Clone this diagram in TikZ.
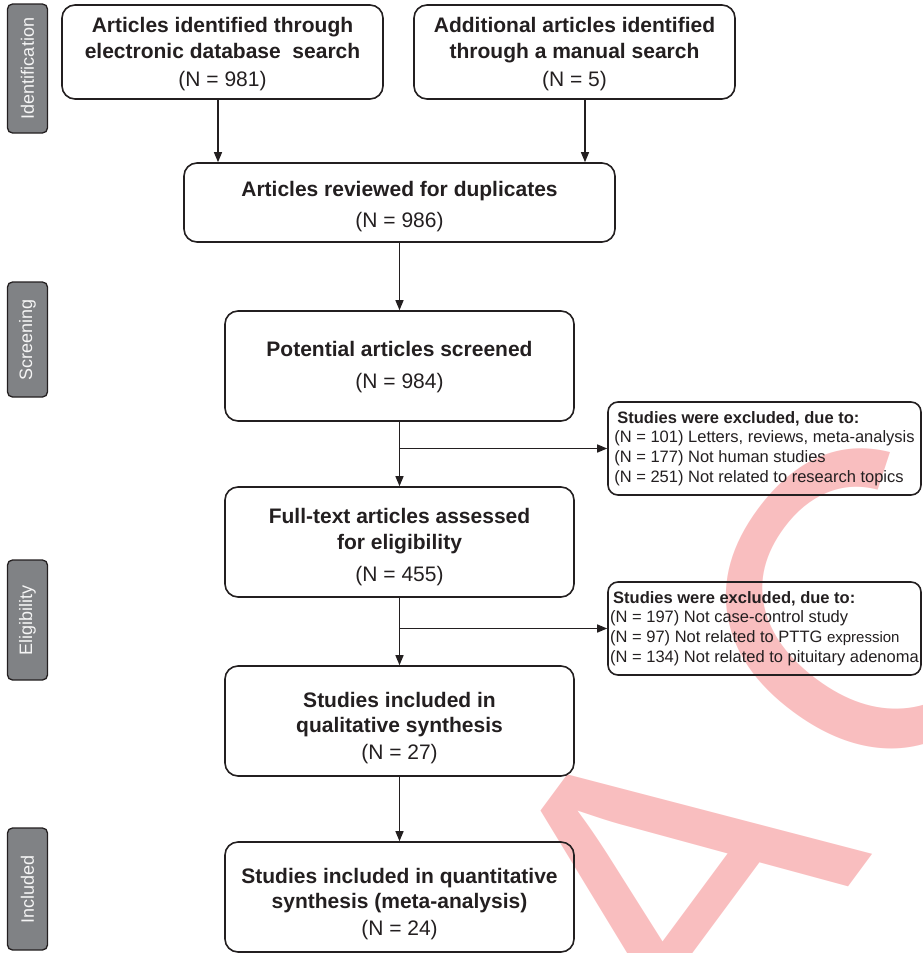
\documentclass[tikz,border=0pt]{standalone}
\usepackage{fontspec}
\setmainfont{Liberation Sans}
\usetikzlibrary{arrows.meta}
\definecolor{inkgray}{HTML}{231F20}
\definecolor{phasegray}{HTML}{808285}
\definecolor{stamppink}{RGB}{249,190,191}

\begin{document}
\begin{tikzpicture}[x=1pt, y=-1pt, line width=1.6pt,
    box/.style={draw=inkgray, rounded corners=13pt, minimum width=349pt, minimum height=110pt,
      inner sep=0pt, align=center, text=inkgray, font=\fontsize{21}{25.5}\selectfont},
    excl/.style={draw=inkgray, rounded corners=10pt, minimum width=313pt, minimum height=93pt,
      inner xsep=1pt, inner ysep=0pt, align=left, text=inkgray, font=\fontsize{16.5}{19.8}\selectfont},
    phase/.style={draw=inkgray, fill=phasegray, rounded corners=5pt, rotate=90, line width=1.3pt,
      minimum height=40pt, inner sep=0pt, text=white!92!phasegray, font=\fontsize{18}{18}\selectfont},
    stamp/.style={text=stamppink, font=\fontsize{425}{425}\selectfont, rotate=53.5,
      anchor=base west, inner sep=0pt},
    arr/.style={draw=inkgray, line width=1.3pt, -{Triangle[length=10pt,width=8pt]}}]
  \useasboundingbox (0,0) rectangle (923,953);
  % watermark behind everything
  \begin{scope}
    \clip (0,0) rectangle (923,953);
    \node[stamp] (wm) at (704,1082) {A\kern45pt C};
  \end{scope}
  % phases on the left
  \node[phase, minimum width=129pt] (idphase) at (27.5,68.5) {Identification};
  \node[phase, minimum width=115pt] (scphase) at (27.5,339.5) {Screening};
  \node[phase, minimum width=120pt] (elphase) at (27.5,620) {Eligibility};
  \node[phase, minimum width=122pt] (inphase) at (27.5,889) {Included};
  % identification
  \node[box, minimum width=321pt, minimum height=94pt] (found) at (222.5,52)
    {\rule{0pt}{20pt}\textbf{Articles identified through}\\\textbf{electronic database\ \ search}\\[3pt](N = 981)};
  \node[box, minimum width=321pt, minimum height=94pt] (manual) at (574.5,52)
    {\rule{0pt}{20pt}\textbf{Additional articles identified}\\\textbf{through a manual search}\\[3pt](N = 5)};
  \node[box, minimum width=431pt, minimum height=79pt] (dups) at (399.5,202.5)
    {\rule{0pt}{24pt}\textbf{Articles reviewed for duplicates}\\[5.5pt](N = 986)};
  % screening and eligibility
  \node[box] (screened) at (399.5,366)
    {\rule{0pt}{18pt}\textbf{Potential articles screened}\\[6.5pt](N = 984)};
  \node[box] (fulltext) at (399.5,542)
    {\rule{0pt}{25pt}\textbf{Full-text articles assessed}\\\textbf{for eligibility}\\[6.5pt](N = 455)};
  \node[box] (qualit) at (399.5,721)
    {\rule{0pt}{29pt}\textbf{Studies included in}\\\textbf{qualitative synthesis}\\[1.5pt](N = 27)};
  \node[box] (quantit) at (399.5,897)
    {\rule{0pt}{29pt}\textbf{Studies included in quantitative}\\\textbf{synthesis (meta-analysis)}\\[1.5pt](N = 24)};
  % exclusions
  \node[excl] (exclA) at (764.5,448.5)
    {\hspace*{3pt}\textbf{Studies were excluded, due to:}\\
     (N = 101) Letters, reviews, meta-analysis\\
     (N = 177) Not human studies\\
     (N = 251) Not related to research topics};
  \node[excl] (exclB) at (764.5,628.5)
    {\hspace*{3pt}\textbf{Studies were excluded, due to:}\\
     (N = 197) Not case-control study\\
     (N = 97) Not related to PTTG {\fontsize{15}{19.8}\selectfont expression}\\
     (N = 134) Not related to pituitary adenoma};
  % connectors
  \draw[arr] ([xshift=-4.5pt]found.south) -- ([xshift=-4.5pt]found.south |- dups.north);
  \draw[arr] ([xshift=10.5pt]manual.south) -- ([xshift=10.5pt]manual.south |- dups.north);
  \draw[arr] (dups) -- (screened);
  \draw[arr] (screened) -- (fulltext);
  \draw[arr] (fulltext) -- (qualit);
  \draw[arr] (qualit) -- (quantit);
  \draw[arr] (screened.south |- exclA.west) -- (exclA.west);
  \draw[arr] (fulltext.south |- exclB.west) -- (exclB.west);
\end{tikzpicture}
\end{document}
